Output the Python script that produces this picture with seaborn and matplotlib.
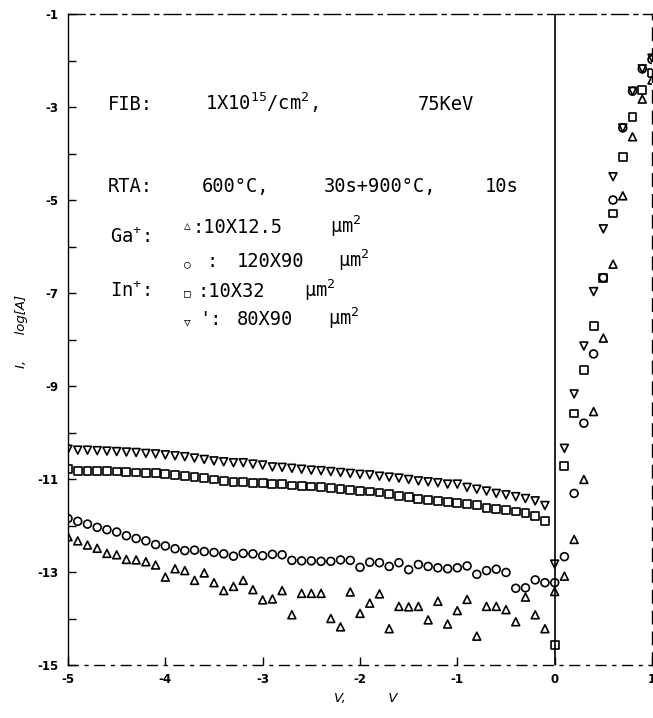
import matplotlib
matplotlib.use("Agg")
import matplotlib.pyplot as plt
import numpy as np
import pandas as pd
import seaborn as sns

# ---------------- data ----------------
voltage = [-5.0, -4.9, -4.8, -4.7, -4.6, -4.5, -4.4, -4.3, -4.2, -4.1,
           -4.0, -3.9, -3.8, -3.7, -3.6, -3.5, -3.4, -3.3, -3.2, -3.1,
           -3.0, -2.9, -2.8, -2.7, -2.6, -2.5, -2.4, -2.3, -2.2, -2.1,
           -2.0, -1.9, -1.8, -1.7, -1.6, -1.5, -1.4, -1.3, -1.2, -1.1,
           -1.0, -0.9, -0.8, -0.7, -0.6, -0.5, -0.4, -0.3, -0.2, -0.1,
           0.0, 0.1, 0.2, 0.3, 0.4, 0.5, 0.6, 0.7, 0.8, 0.9, 1.0]

# Ga+ : 10X12.5 um^2  (triangle up)
ga_small = [-12.24, -12.33, -12.42, -12.49, -12.60, -12.63, -12.73, -12.74, -12.78, -12.85,
            -13.11, -12.93, -12.97, -13.18, -13.02, -13.23, -13.40, -13.31, -13.18, -13.38,
            -13.60, -13.58, -13.40, -13.92, -13.46, -13.46, -13.46, -14.00, -14.18, -13.43,
            -13.89, -13.67, -13.47, -14.22, -13.74, -13.75, -13.74, -14.03, -13.63, -14.12,
            -13.83, -13.59, -14.38, -13.74, -13.74, -13.81, -14.07, -13.54, -13.92, -14.22,
            -13.42, -13.09, -12.30, -11.01, -9.55, -7.97, -6.38, -4.91, -3.64, -2.83, -2.42]

# Ga+ : 120X90 um^2  (circle)
ga_large = [-11.85, -11.91, -11.97, -12.04, -12.09, -12.14, -12.22, -12.28, -12.33, -12.41,
            -12.44, -12.50, -12.54, -12.53, -12.56, -12.58, -12.61, -12.66, -12.60, -12.61,
            -12.65, -12.62, -12.63, -12.75, -12.76, -12.76, -12.77, -12.77, -12.74, -12.75,
            -12.90, -12.79, -12.80, -12.88, -12.80, -12.95, -12.84, -12.88, -12.91, -12.93,
            -12.91, -12.87, -13.05, -12.97, -12.94, -13.01, -13.35, -13.34, -13.17, -13.23,
            -13.23, -12.67, -11.31, -9.80, -8.31, -6.67, -5.00, -3.45, -2.66, -2.18, -1.98]

# In+ : 10X32 um^2  (square)
in_small = [-10.79, -10.82, -10.82, -10.83, -10.83, -10.84, -10.85, -10.86, -10.87, -10.88,
            -10.89, -10.91, -10.93, -10.95, -10.98, -11.01, -11.04, -11.06, -11.06, -11.08,
            -11.09, -11.11, -11.11, -11.14, -11.15, -11.16, -11.18, -11.20, -11.22, -11.24,
            -11.25, -11.27, -11.29, -11.33, -11.36, -11.39, -11.43, -11.45, -11.47, -11.49,
            -11.51, -11.54, -11.56, -11.63, -11.65, -11.67, -11.70, -11.74, -11.80, -11.90,
            -14.57, -10.72, -9.59, -8.66, -7.71, -6.67, -5.29, -4.07, -3.21, -2.63, -2.27]

# In+ : 80X90 um^2  (triangle down)
in_large = [-10.36, -10.38, -10.38, -10.39, -10.40, -10.41, -10.42, -10.43, -10.45, -10.46,
            -10.48, -10.50, -10.52, -10.55, -10.58, -10.61, -10.63, -10.65, -10.65, -10.68,
            -10.70, -10.74, -10.75, -10.77, -10.79, -10.81, -10.82, -10.84, -10.86, -10.88,
            -10.90, -10.91, -10.94, -10.96, -10.98, -11.01, -11.04, -11.06, -11.08, -11.11,
            -11.11, -11.18, -11.22, -11.26, -11.31, -11.34, -11.38, -11.42, -11.47, -11.57,
            -12.83, -10.34, -9.17, -8.14, -6.97, -5.62, -4.50, -3.45, -2.66, -2.18, -1.95]

y_ticks = [-15, -13, -11, -9, -7, -5, -3, -1]
x_ticks = [-5, -4, -3, -2, -1, 0, 1]

# ---------------- style ----------------
sns.set_theme(style="white")
plt.rcParams['font.family'] = ['DejaVu Sans']
plt.rcParams['axes.unicode_minus'] = False
plt.rcParams['mathtext.fontset'] = 'custom'
plt.rcParams['mathtext.rm'] = 'DejaVu Sans Mono'
plt.rcParams['mathtext.it'] = 'DejaVu Sans Mono:italic'
plt.rcParams['mathtext.bf'] = 'DejaVu Sans Mono:bold'

W, H = 653, 718
fig = plt.figure(figsize=(W / 100, H / 100), dpi=100)
ax = fig.add_axes([68 / W, 1 - 665 / H, (652 - 68) / W, (665 - 14) / H])

ax.axvline(0, color='black', lw=1.2, zorder=1)

series = [
    (ga_small, '^'),
    (ga_large, 'o'),
    (in_small, 's'),
    (in_large, 'v'),
]
for vals, mk in series:
    df = pd.DataFrame({'V': voltage, 'logI': vals})
    sns.scatterplot(data=df, x='V', y='logI', marker=mk, s=32, color='black',
                    facecolors='none', edgecolor='black', linewidth=1.2,
                    ax=ax, legend=False, zorder=3)

ax.set_xlim(-5, 1)
ax.set_ylim(-15, -1)

ax.set_yticks(y_ticks)
ax.set_yticklabels([str(t) for t in y_ticks])
ax.set_yticks(list(range(-14, -1, 2)), minor=True)
ax.set_xticks(x_ticks)
ax.set_xticklabels([str(t) for t in x_ticks])

ax.tick_params(axis='y', which='both', direction='in', length=6, width=1,
               left=True, right=False, color='black', labelsize=8.5, pad=7,
               labelcolor='black')
ax.tick_params(axis='x', which='both', direction='in', length=6, width=1,
               bottom=True, top=False, color='black', labelsize=8.5, pad=6,
               labelcolor='black')
for lab in ax.get_xticklabels() + ax.get_yticklabels():
    lab.set_fontweight('bold')

for side in ['top', 'right', 'bottom', 'left']:
    ax.spines[side].set_color('black')
    ax.spines[side].set_linewidth(1.0)
ax.spines['top'].set_linestyle((0, (12, 4, 3, 4)))
ax.spines['right'].set_linestyle((0, (9, 6)))
ax.spines['bottom'].set_linestyle((0, (7, 5, 2, 5)))

ax.set_xlabel("V,          V", fontstyle='italic', fontsize=9.5, color='black')
ax.xaxis.set_label_coords(0.51, -0.042)
ax.set_ylabel("I,      log[A]", fontstyle='italic', fontsize=9.5, color='black')
ax.yaxis.set_label_coords(-0.068, 0.512)

# ---------------- annotation text (pixel positions) ----------------
mono = ['DejaVu Sans Mono', 'DejaVu Sans']


def ptext(x, y, s, size=13.5, ha='center'):
    fig.text(x / W, 1 - y / H, s, fontsize=size, family=mono, color='black',
             va='baseline', ha=ha)


ptext(108, 110, "FIB:", ha='left')
ptext(262, 110, "1X10$^{15}$/cm$^{2}$,")
ptext(446, 110, "75KeV")

ptext(108, 192, "RTA:", ha='left')
ptext(236, 192, "600°C,")
ptext(380, 192, "30s+900°C,")
ptext(502, 192, "10s")

ptext(110, 243, "Ga$^{+}$:", ha='left')
ptext(187, 229, "△", size=8)
ptext(193, 233, ":10X12.5", ha='left')
ptext(330, 233, "μm$^{2}$", ha='left')

ptext(187, 267, "○", size=8)
ptext(212, 267, ":")
ptext(237, 267, "120X90", ha='left')
ptext(338, 267, "μm$^{2}$", ha='left')

ptext(110, 297, "In$^{+}$:", ha='left')
ptext(187, 296, "□", size=8)
ptext(197, 297, ":10X32", ha='left')
ptext(304, 297, "μm$^{2}$", ha='left')

ptext(187, 325, "▽", size=8)
ptext(210, 325, "':")
ptext(237, 325, "80X90", ha='left')
ptext(328, 325, "μm$^{2}$", ha='left')

fig.savefig("out.png", dpi=100)
